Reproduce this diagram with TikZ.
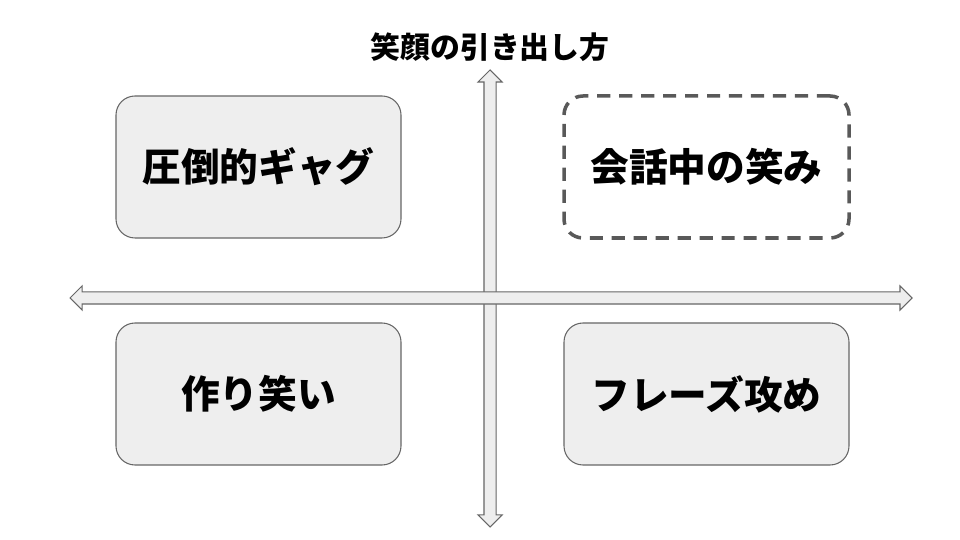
\documentclass[tikz,border=0pt]{standalone}
\usepackage{fontspec}
\newfontfamily\jp{Noto Sans CJK JP}
\usetikzlibrary{shapes.arrows}
\definecolor{boxfill}{HTML}{EEEEEE}
\definecolor{boxline}{HTML}{666666}
\definecolor{dashline}{HTML}{595959}
\begin{document}
\begin{tikzpicture}
        [%%%%%%%%%%%%%%%%%%%%%%%%%%%%%%
        axis/.style={double arrow, draw=boxline, fill=boxfill, line width=0.6pt,
          inner xsep=0pt, inner ysep=0.11cm, double arrow head extend=0.12cm,
          double arrow tip angle=90},
        quad/.style={rectangle, rounded corners=0.38cm, minimum width=5.7cm,
          minimum height=2.84cm, font=\jp\bfseries\fontsize{22}{26}\selectfont},
        solidquad/.style={quad, draw=boxline, fill=boxfill, line width=0.6pt},
        dashquad/.style={quad, draw=dashline, line width=2pt,
          dash pattern=on 7.5pt off 5pt},
        ]%%%%%%%%%%%%%%%%%%%%%%%%%%%%%%
        \useasboundingbox (0,0) rectangle (19.2,10.8);
        % Axes
        \node[axis, minimum height=9.14cm, rotate=90] (vaxis) at (9.8,4.83){};
        \node[axis, minimum height=16.84cm] (haxis) at (9.82,4.84){};
        % Title
        \node[font=\jp\bfseries\fontsize{17}{20}\selectfont] (title) at (9.8,9.86){笑顔の引き出し方};
        % Quadrants
        \node[solidquad] (gag) at (5.17,7.46){圧倒的ギャグ};
        \node[dashquad] (talk) at (14.13,7.46){会話中の笑み};
        \node[solidquad] (fake) at (5.17,2.92){作り笑い};
        \node[solidquad] (phrase) at (14.13,2.92){フレーズ攻め};
      \end{tikzpicture}
\end{document}
